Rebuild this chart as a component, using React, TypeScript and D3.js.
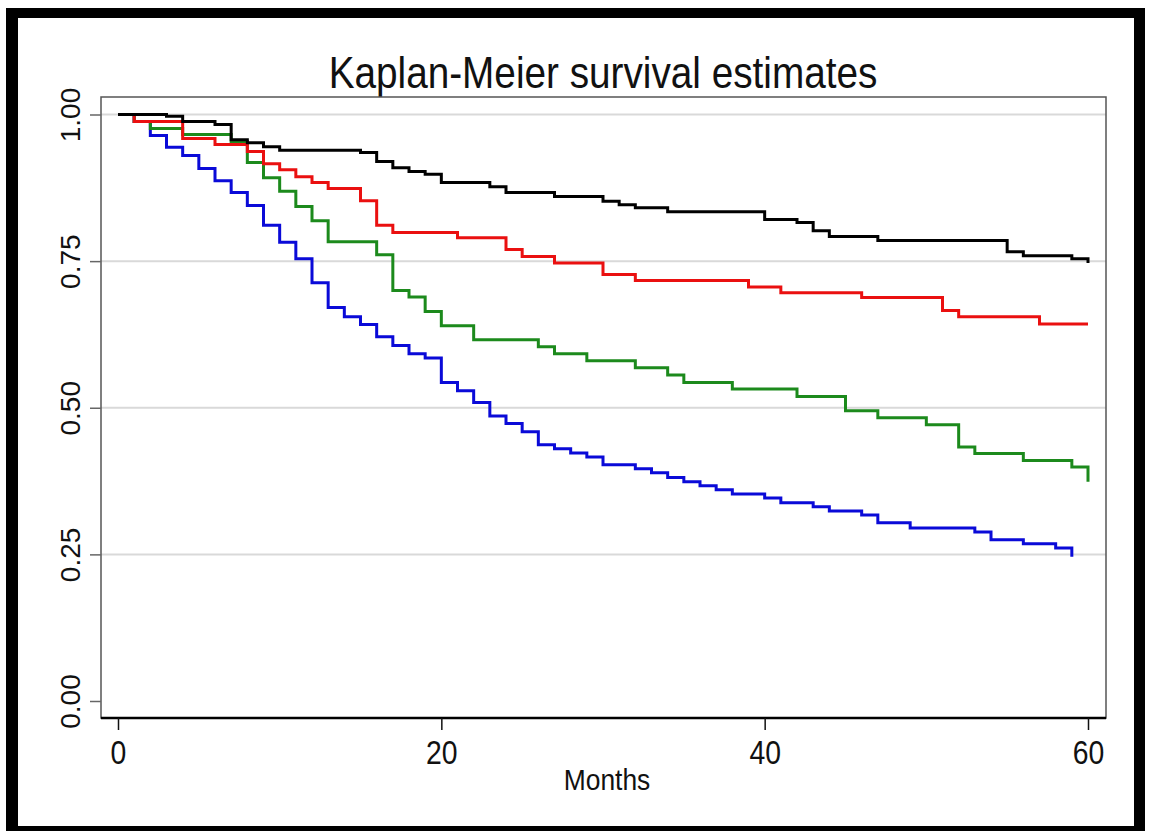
import React, { useRef, useEffect } from "react";
import * as d3 from "d3";

// Kaplan-Meier step data (months, survival)
const blackTimes = [0, 3, 4, 6, 7, 8, 9, 10, 15, 16, 17, 18, 19, 20, 23, 24, 27, 30, 31, 32, 34, 40, 42, 43, 44, 47, 55, 56, 59, 60];
const blackSurv = [1.0, 0.997, 0.988, 0.983, 0.957, 0.952, 0.945, 0.939, 0.935, 0.92, 0.909, 0.903, 0.898, 0.884, 0.877, 0.867, 0.86, 0.852, 0.846, 0.841, 0.834, 0.821, 0.816, 0.802, 0.792, 0.785, 0.766, 0.759, 0.754, 0.747];

const redTimes = [0, 1, 4, 6, 8, 9, 10, 11, 12, 13, 15, 16, 17, 21, 24, 25, 27, 30, 32, 39, 41, 46, 51, 52, 57, 60];
const redSurv = [1.0, 0.988, 0.959, 0.949, 0.937, 0.916, 0.906, 0.894, 0.884, 0.874, 0.853, 0.811, 0.799, 0.79, 0.77, 0.758, 0.747, 0.727, 0.717, 0.706, 0.696, 0.688, 0.666, 0.655, 0.643, 0.643];

const greenTimes = [0, 1, 2, 4, 7, 8, 9, 10, 11, 12, 13, 16, 17, 18, 19, 20, 22, 26, 27, 29, 32, 34, 35, 38, 42, 45, 47, 50, 52, 53, 56, 59, 60];
const greenSurv = [1.0, 0.988, 0.976, 0.966, 0.954, 0.918, 0.892, 0.869, 0.843, 0.819, 0.783, 0.761, 0.7, 0.689, 0.664, 0.64, 0.616, 0.604, 0.592, 0.58, 0.568, 0.556, 0.543, 0.532, 0.519, 0.495, 0.483, 0.471, 0.433, 0.422, 0.41, 0.399, 0.374];

const blueTimes = [0, 1, 2, 3, 4, 5, 6, 7, 8, 9, 10, 11, 12, 13, 14, 15, 16, 17, 18, 19, 20, 21, 22, 23, 24, 25, 26, 27, 28, 29, 30, 32, 33, 34, 35, 36, 37, 38, 40, 41, 43, 44, 46, 47, 49, 53, 54, 56, 58, 59];
const blueSurv = [1.0, 0.988, 0.964, 0.944, 0.93, 0.908, 0.887, 0.867, 0.845, 0.811, 0.782, 0.754, 0.713, 0.671, 0.655, 0.642, 0.621, 0.606, 0.592, 0.585, 0.543, 0.529, 0.509, 0.486, 0.473, 0.459, 0.437, 0.43, 0.423, 0.416, 0.403, 0.396, 0.389, 0.381, 0.374, 0.367, 0.36, 0.353, 0.346, 0.338, 0.331, 0.324, 0.317, 0.304, 0.295, 0.288, 0.275, 0.268, 0.261, 0.246];

const xTicks = [0, 20, 40, 60];
const yTicks = [0, 0.25, 0.5, 0.75, 1.0];
const gridValues = [0.25, 0.5, 0.75, 1.0];

const title = "Kaplan-Meier survival estimates";
const xLabel = "Months";

export default function App() {
  const width = 1150;
  const height = 831;
  const frame = { left: 101, right: 1106, top: 97, bottom: 718 };

  const xAxisRef = useRef(null);
  const yAxisRef = useRef(null);

  const x = d3.scaleLinear().domain([0, 60]).range([118, 1088]);
  const y = d3.scaleLinear().domain([0, 1]).range([701, 114.5]);

  const series = [
    { times: blueTimes, surv: blueSurv, color: "#0a0ad8" },
    { times: greenTimes, surv: greenSurv, color: "#1c8a1c" },
    { times: redTimes, surv: redSurv, color: "#ea1010" },
    { times: blackTimes, surv: blackSurv, color: "#000000" },
  ];

  const line = d3
    .line<[number, number]>()
    .x((d) => x(d[0]))
    .y((d) => y(d[1]))
    .curve(d3.curveStepAfter);

  const font = "'Liberation Sans', Arial, Helvetica, sans-serif";

  useEffect(() => {
    if (yAxisRef.current) {
      const g = d3.select(yAxisRef.current);
      g.call(
        d3.axisLeft(y).tickValues(yTicks).tickFormat(d3.format(".2f")).tickSize(11)
      );
      g.select(".domain").remove();
      g.selectAll(".tick line").attr("stroke", "#666").attr("stroke-width", 1.5);
      g.selectAll(".tick text")
        .attr("transform", "rotate(-90)")
        .attr("x", 0)
        .attr("y", -21)
        .attr("dy", 0)
        .attr("text-anchor", "middle")
        .attr("fill", "#111")
        .style("font-size", "28px")
        .style("font-family", font);
    }
    if (xAxisRef.current) {
      const g = d3.select(xAxisRef.current);
      g.call(d3.axisBottom(x).tickValues(xTicks).tickSize(12));
      g.select(".domain").remove();
      g.selectAll(".tick line").attr("stroke", "#111").attr("stroke-width", 1.5);
      g.selectAll(".tick text")
        .attr("y", 23)
        .attr("dy", "0.71em")
        .attr("transform", "scale(0.86,1)")
        .attr("fill", "#111")
        .style("font-size", "33px")
        .style("font-family", font);
    }
  }, []);

  return (
    <svg
      width={width}
      height={height}
      style={{ position: "absolute", left: 0, top: 0, background: "#fff" }}
    >
      {/* black picture frame */}
      <rect x={6} y={8} width={12} height={823} fill="#000" />
      <rect x={6} y={8} width={1139} height={10} fill="#000" />
      <rect x={1134} y={8} width={11} height={823} fill="#000" />
      <rect x={6} y={826} width={1139} height={5} fill="#000" />

      <text
        transform="translate(603,88) scale(0.88,1)"
        textAnchor="middle"
        fontFamily={font}
        fontSize={44}
        fill="#111"
      >
        {title}
      </text>

      {gridValues.map((v) => (
        <line
          key={v}
          x1={frame.left}
          x2={frame.right}
          y1={y(v)}
          y2={y(v)}
          stroke="#d9d9d9"
          strokeWidth={2}
        />
      ))}

      <rect
        x={frame.left}
        y={frame.top}
        width={frame.right - frame.left}
        height={frame.bottom - frame.top}
        fill="none"
        stroke="#555"
        strokeWidth={1.5}
      />

      {series.map((s, i) => (
        <path
          key={i}
          d={line(s.times.map((t, j) => [t, s.surv[j]] as [number, number])) || ""}
          fill="none"
          stroke={s.color}
          strokeWidth={3}
        />
      ))}

      <line
        x1={frame.left}
        x2={frame.right}
        y1={frame.bottom}
        y2={frame.bottom}
        stroke="#000"
        strokeWidth={2.5}
      />

      <g ref={yAxisRef} transform={`translate(${frame.left},0)`} />
      <g ref={xAxisRef} transform={`translate(0,${frame.bottom})`} />

      <text
        transform="translate(607,790) scale(0.88,1)"
        textAnchor="middle"
        fontFamily={font}
        fontSize={30}
        fill="#111"
      >
        {xLabel}
      </text>
    </svg>
  );
}
